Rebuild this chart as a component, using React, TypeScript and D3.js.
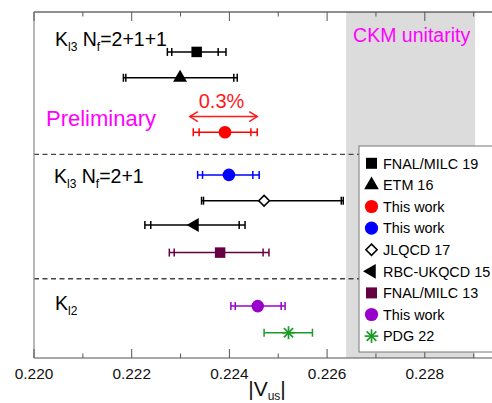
import React from "react";
import * as d3 from "d3";

// |Vus| values
const names = [
  "FNAL/MILC 19",
  "ETM 16",
  "This work",
  "This work",
  "JLQCD 17",
  "RBC-UKQCD 15",
  "FNAL/MILC 13",
  "This work",
  "PDG 22",
];
const centers = [0.22333, 0.22299, 0.22391, 0.22399, 0.22471, 0.22329, 0.22381, 0.22458, 0.22521];
const innerLo = [0.22282, 0.22188, 0.22338, 0.22345, 0.22347, 0.22239, 0.22287, 0.22412, null];
const innerHi = [0.22377, 0.22409, 0.22444, 0.22448, 0.22629, 0.2242, 0.22469, 0.22506, null];
const outerLo = [0.22273, 0.22183, 0.22326, 0.22335, 0.22343, 0.22227, 0.22277, 0.22403, 0.22471];
const outerHi = [0.22393, 0.22416, 0.22457, 0.22461, 0.22633, 0.22432, 0.22481, 0.22514, 0.2257];
// row slot of each entry on the vertical (categorical) axis
const rows = [1.5, 2.47, 4.52, 6.12, 7.09, 8.0, 9.04, 11.05, 12.05];
const colors = ["#000", "#000", "#ff0000", "#0000ff", "#000", "#000", "#660044", "#9900cc", "#1f9a2a"];
const shapes = ["square", "triangle", "circle", "circle", "diamond", "left", "square", "circle", "star"];

const xTicks = [0.22, 0.221, 0.222, 0.223, 0.224, 0.225, 0.226, 0.227, 0.228, 0.229];
const band = [0.22639, 0.22903]; // CKM unitarity
const arrowSpan = [0.22319, 0.22457]; // 0.3%
const dividers = [5.35, 10.02];

const W = 492;
const H = 403;
const FONT = "'Liberation Sans', Arial, Helvetica, sans-serif";

const x = d3.scaleLinear().domain([0.22, 0.23]).range([34, 522.5]);
const y = d3.scaleLinear().domain([0, 13]).range([12, 358]);

const Marker = ({ shape, color, cx, cy, scale = 1 }) => {
  if (shape === "star") {
    const r = 6.5 * scale;
    const d = r * Math.SQRT1_2;
    return (
      <g transform={`translate(${cx},${cy})`} stroke={color} strokeWidth={1.7}>
        <line x1={-r} x2={r} y1={0} y2={0} />
        <line x1={0} x2={0} y1={-r} y2={r} />
        <line x1={-d} x2={d} y1={-d} y2={d} />
        <line x1={-d} x2={d} y1={d} y2={-d} />
      </g>
    );
  }
  if (shape === "diamond") {
    const r = 5.3 * scale;
    return (
      <path
        d={`M0,${-r}L${r},0L0,${r}L${-r},0Z`}
        transform={`translate(${cx},${cy})`}
        fill="#fff"
        stroke={color}
        strokeWidth={1.6}
      />
    );
  }
  let type = d3.symbolCircle;
  let size = 125;
  let rot = 0;
  if (shape === "square") { type = d3.symbolSquare; size = 110; }
  if (shape === "triangle") { type = d3.symbolTriangle; size = 85; }
  if (shape === "left") { type = d3.symbolTriangle; size = 85; rot = -90; }
  const path = d3.symbol().type(type).size(size * scale * scale)();
  return <path d={path} transform={`translate(${cx},${cy}) rotate(${rot})`} fill={color} />;
};

const App = () => {
  const [top, bottom] = y.range();
  const cap = 4;
  const ay = y(3.93);
  return (
    <svg width={W} height={H} style={{ position: "absolute", left: 0, top: 0 }} fontFamily={FONT}>
      <rect width={W} height={H} fill="#fff" />
      {/* CKM unitarity band */}
      <rect x={x(band[0])} y={top} width={x(band[1]) - x(band[0])} height={bottom - top} fill="#dcdcdc" />
      <text x={(x(band[0]) + x(band[1])) / 2 + 1} y={42} textAnchor="middle" fontSize={19.5} fill="#ff00ff">
        CKM unitarity
      </text>

      {/* group dividers */}
      {dividers.map((d, i) => (
        <line key={i} x1={x(0.22)} x2={W} y1={y(d)} y2={y(d)} stroke="#444" strokeWidth={1.4} strokeDasharray="5,3.5" />
      ))}

      {/* axes frame */}
      <line x1={x(0.22)} x2={W} y1={top} y2={top} stroke="#222" strokeWidth={1.2} />
      <line x1={x(0.22)} x2={W} y1={bottom} y2={bottom} stroke="#555" strokeWidth={1.2} />
      <line x1={x(0.22)} x2={x(0.22)} y1={top} y2={bottom} stroke="#888" strokeWidth={1.2} />
      {xTicks.map((t, i) => {
        const major = i % 2 === 0;
        const len = major ? 9 : 4.5;
        return (
          <g key={t}>
            <line x1={x(t)} x2={x(t)} y1={bottom} y2={bottom - len} stroke="#555" strokeWidth={1} />
            <line x1={x(t)} x2={x(t)} y1={top} y2={top + len} stroke="#555" strokeWidth={1} />
            {major && (
              <text x={x(t)} y={378.5} textAnchor="middle" fontSize={15.4} fill="#111">
                {d3.format(".3f")(t)}
              </text>
            )}
          </g>
        );
      })}
      <text x={267} y={396} textAnchor="middle" fontSize={21} fill="#111">
        |V<tspan fontSize={12} dy={4}>us</tspan><tspan dy={-4}>|</tspan>
      </text>

      {/* group labels */}
      <text x={55} y={46} fontSize={19.5} fill="#000">
        K<tspan fontSize={12} dy={5}>l3</tspan>
        <tspan dy={-5}> N</tspan><tspan fontSize={12} dy={5}>f</tspan>
        <tspan dy={-5}>=2+1+1</tspan>
      </text>
      <text x={54} y={182.5} fontSize={19.5} fill="#000">
        K<tspan fontSize={12} dy={5}>l3</tspan>
        <tspan dy={-5}> N</tspan><tspan fontSize={12} dy={5}>f</tspan>
        <tspan dy={-5}>=2+1</tspan>
      </text>
      <text x={55} y={310} fontSize={19.5} fill="#000">
        K<tspan fontSize={12} dy={5}>l2</tspan>
      </text>
      <text x={46} y={126} fontSize={22} fill="#ff00ff">
        Preliminary
      </text>

      {/* 0.3% arrow */}
      <text x={(x(arrowSpan[0]) + x(arrowSpan[1])) / 2 - 2} y={107.5} textAnchor="middle" fontSize={20} fill="#ff1a1a">
        0.3%
      </text>
      <g stroke="#ff1a1a" strokeWidth={1.5} fill="none">
        <line x1={x(arrowSpan[0])} x2={x(arrowSpan[1])} y1={ay} y2={ay} />
        <path d={`M${x(arrowSpan[0]) + 8},${ay - 5} L${x(arrowSpan[0])},${ay} L${x(arrowSpan[0]) + 8},${ay + 5}`} />
        <path d={`M${x(arrowSpan[1]) - 8},${ay - 5} L${x(arrowSpan[1])},${ay} L${x(arrowSpan[1]) - 8},${ay + 5}`} />
      </g>

      {/* error bars and points */}
      {centers.map((c, i) => {
        const cy = y(rows[i]);
        const capsAt = [outerLo[i], outerHi[i], innerLo[i], innerHi[i]].filter((v) => v !== null);
        return (
          <g key={i}>
            <g stroke={colors[i]} strokeWidth={1.5}>
              <line x1={x(outerLo[i])} x2={x(outerHi[i])} y1={cy} y2={cy} />
              {capsAt.map((v, j) => (
                <line key={j} x1={x(v)} x2={x(v)} y1={cy - cap} y2={cy + cap} />
              ))}
            </g>
            <Marker shape={shapes[i]} color={colors[i]} cx={x(c)} cy={cy} />
          </g>
        );
      })}

      {/* legend */}
      <rect x={359} y={146} width={150} height={206} fill="#fff" stroke="#777" strokeWidth={1} />
      {names.map((n, i) => {
        const ly = 163.3 + i * 21.6;
        return (
          <g key={i}>
            <Marker shape={shapes[i]} color={colors[i]} cx={371.5} cy={ly} scale={1.05} />
            <text x={383} y={ly + 5.2} fontSize={14.4} fill="#000">
              {n}
            </text>
          </g>
        );
      })}
    </svg>
  );
};

export default App;
